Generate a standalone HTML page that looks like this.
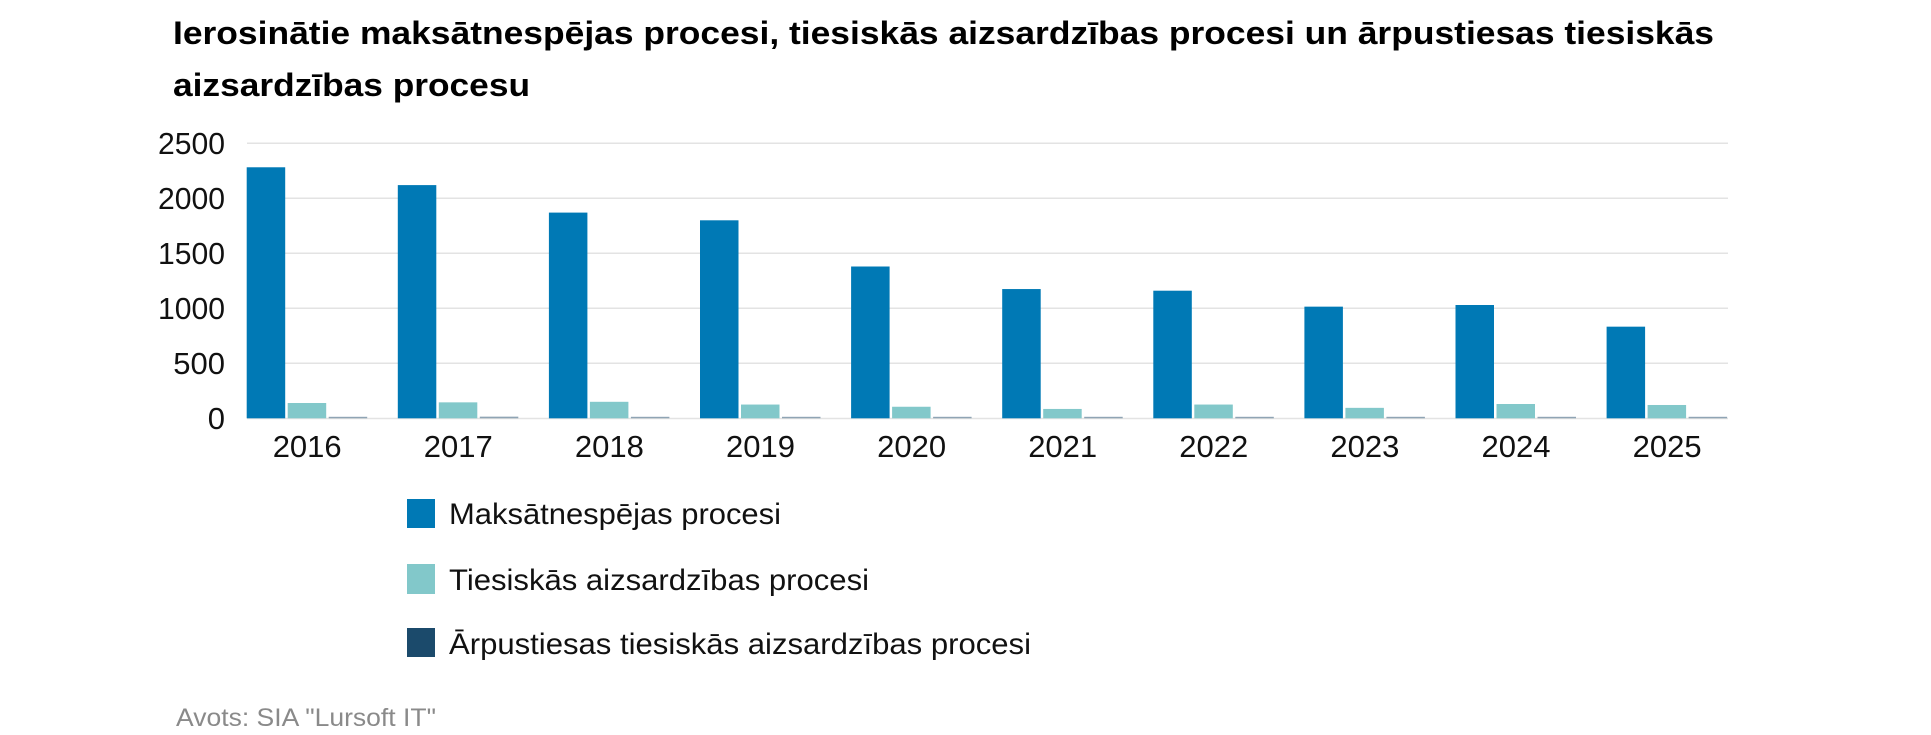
<!DOCTYPE html>
<html><head><meta charset="utf-8"><style>body{margin:0;background:#fff}svg{display:block}text{font-family:"Liberation Sans",sans-serif}</style></head>
<body>
<svg width="1931" height="735" xmlns="http://www.w3.org/2000/svg">
<text x="173" y="44" font-size="32" font-weight="bold" fill="#000" textLength="1541" lengthAdjust="spacingAndGlyphs">Ierosinātie maksātnespējas procesi, tiesiskās aizsardzības procesi un ārpustiesas tiesiskās</text>
<text x="173" y="96" font-size="32" font-weight="bold" fill="#000" textLength="357" lengthAdjust="spacingAndGlyphs">aizsardzības procesu</text>
<g stroke="#e3e3e3" stroke-width="1.5">
<line x1="247" x2="1728" y1="143.3" y2="143.3"/><line x1="247" x2="1728" y1="198.3" y2="198.3"/><line x1="247" x2="1728" y1="253.3" y2="253.3"/><line x1="247" x2="1728" y1="308.3" y2="308.3"/><line x1="247" x2="1728" y1="363.3" y2="363.3"/><line x1="247" x2="1728" y1="418.5" y2="418.5"/>
</g>
<g font-size="31" fill="#111" text-anchor="end">
<text x="225" y="154" textLength="67" lengthAdjust="spacingAndGlyphs">2500</text><text x="225" y="209" textLength="67" lengthAdjust="spacingAndGlyphs">2000</text><text x="225" y="264" textLength="67" lengthAdjust="spacingAndGlyphs">1500</text><text x="225" y="319" textLength="67" lengthAdjust="spacingAndGlyphs">1000</text><text x="225" y="374">500</text><text x="225" y="429">0</text>
</g>
<g id="bars"></g>
<g font-size="31" fill="#111" text-anchor="middle" id="years"></g>
<rect x="407" y="499" width="28" height="29" fill="#0079b5"/>
<rect x="407" y="564" width="28" height="30" fill="#82c8ca"/>
<rect x="407" y="628" width="28" height="29" fill="#1b4a6b"/>
<g font-size="30" fill="#111">
<text x="449" y="524" textLength="332" lengthAdjust="spacingAndGlyphs">Maksātnespējas procesi</text>
<text x="449" y="590" textLength="420" lengthAdjust="spacingAndGlyphs">Tiesiskās aizsardzības procesi</text>
<text x="449" y="654" textLength="582" lengthAdjust="spacingAndGlyphs">Ārpustiesas tiesiskās aizsardzības procesi</text>
</g>
<text x="176" y="726" font-size="25" fill="#8a8a8a" textLength="260" lengthAdjust="spacingAndGlyphs">Avots: SIA "Lursoft IT"</text>
<script>
var blue=[2282,2120,1870,1800,1380,1175,1160,1015,1030,833];
var teal=[139,145,150,125,105,85,125,95,130,121];
var dark=[8,15,4,8,4,4,8,6,12,12];
var ns="http://www.w3.org/2000/svg",g=document.getElementById("bars"),y=document.getElementById("years");
function r(x,v,c){var h=Math.max(v*0.11,1.5);var e=document.createElementNS(ns,"rect");e.setAttribute("x",x);e.setAttribute("y",418.3-h);e.setAttribute("width",38.5);e.setAttribute("height",h);e.setAttribute("fill",c);g.appendChild(e);}
for(var i=0;i<10;i++){var x0=246.7+151.1*i;r(x0,blue[i],"#0079b5");r(x0+41,teal[i],"#82c8ca");r(x0+82,dark[i],"#8fa4b4");
var t=document.createElementNS(ns,"text");t.setAttribute("x",x0+60.5);t.setAttribute("y",457);t.setAttribute("textLength","69");t.setAttribute("lengthAdjust","spacingAndGlyphs");t.textContent=2016+i;y.appendChild(t);}
</script>
</svg>
</body></html>
